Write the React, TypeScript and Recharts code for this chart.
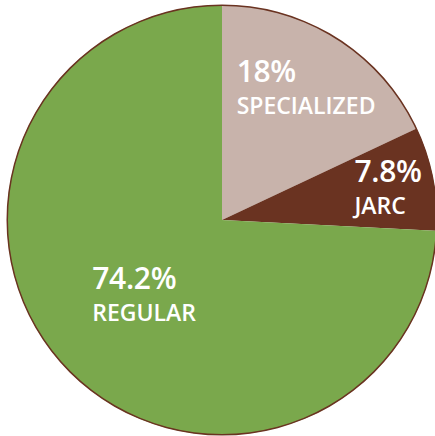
import React from 'react';
import { Pie, PieChart, Cell } from 'recharts';

const names = ['SPECIALIZED', 'JARC', 'REGULAR'];
const shares = [18, 7.8, 74.2];
const colors = ['#c8b3ab', '#6a3321', '#7aa84c'];

const outline = [{ name: 'outline', value: 1 }];

// how far out each label block sits, as a fraction of the radius
const labelRadius: { [key: string]: number } = {
  SPECIALIZED: 0.73,
  JARC: 0.79,
  REGULAR: 0.5,
};

const FONT = '"Open Sans", sans-serif';
const WEIGHT = 600;
const RAD = Math.PI / 180;

let ctx: CanvasRenderingContext2D | null = null;
function textWidth(text: string, size: number) {
  if (!ctx) ctx = document.createElement('canvas').getContext('2d');
  if (!ctx) return text.length * size * 0.6;
  ctx.font = `${WEIGHT} ${size}px "Open Sans"`;
  return ctx.measureText(text).width;
}

const data = names.map((name, i) => ({ name, value: shares[i] }));

const SliceLabel = (props: any) => {
  const { cx, cy, midAngle, outerRadius, name, value } = props;
  const r = outerRadius * (labelRadius[name] ?? 0.6);
  const px = cx + r * Math.cos(-midAngle * RAD);
  const py = cy + r * Math.sin(-midAngle * RAD);
  const pct = `${value}%`;
  const w = Math.max(textWidth(pct, 30), textWidth(name, 23));
  const x = px - w / 2;
  return (
    <g>
      <text x={x} y={py - 5} fill="#fff" fontSize={30} fontWeight={WEIGHT} fontFamily={FONT} letterSpacing={-0.3}>
        {pct}
      </text>
      <text x={x} y={py + 27} fill="#fff" fontSize={23} fontWeight={WEIGHT} fontFamily={FONT}>
        {name}
      </text>
    </g>
  );
};

const App = () => {
  return (
    <div style={{ position: 'absolute', left: 0, top: 0, width: 435, height: 436, background: '#fff' }}>
      <PieChart width={435} height={436} margin={{ top: 0, right: 0, bottom: 0, left: 0 }}>
        <Pie
          data={data}
          dataKey="value"
          cx={222}
          cy={220}
          outerRadius={215}
          startAngle={90}
          endAngle={-270}
          stroke="none"
          label={SliceLabel}
          labelLine={false}
          isAnimationActive={false}
        >
          {data.map((d, i) => (
            <Cell key={d.name} fill={colors[i]} />
          ))}
        </Pie>
        <Pie
          data={outline}
          dataKey="value"
          cx={222}
          cy={220}
          innerRadius={214}
          outerRadius={215.5}
          startAngle={90}
          endAngle={-270}
          fill="#6a3321"
          stroke="none"
          isAnimationActive={false}
        />
      </PieChart>
    </div>
  );
};

export default App;
